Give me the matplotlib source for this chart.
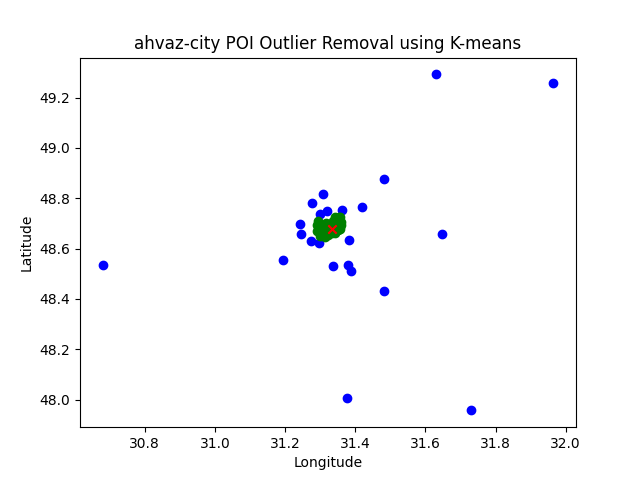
import matplotlib
matplotlib.use("Agg")
import matplotlib.pyplot as plt

# points removed as outliers
outlier_lon = [31.631, 31.965, 31.482, 31.418, 31.308, 31.276, 31.242, 31.245, 31.193,
               31.382, 31.336, 31.379, 31.388, 31.482, 31.648, 30.680, 31.377, 31.729,
               31.273, 31.298, 31.319, 31.361, 31.299]
outlier_lat = [49.292, 49.256, 48.875, 48.764, 48.815, 48.780, 48.696, 48.657, 48.553,
               48.633, 48.530, 48.534, 48.510, 48.430, 48.656, 48.533, 48.008, 47.957,
               48.629, 48.622, 48.748, 48.752, 48.739]

# points kept
kept_lon = [31.293, 31.291, 31.291, 31.299, 31.313, 31.333, 31.351, 31.360, 31.358,
            31.351, 31.337, 31.318, 31.309, 31.328, 31.347, 31.355, 31.342, 31.323,
            31.342, 31.356, 31.360, 31.296]
kept_lat = [48.711, 48.692, 48.669, 48.650, 48.645, 48.660, 48.673, 48.692, 48.724,
            48.716, 48.708, 48.703, 48.679, 48.682, 48.692, 48.727, 48.724, 48.653,
            48.663, 48.679, 48.706, 48.700]

center_lon = [31.334]
center_lat = [48.679]

plt.figure(figsize=(6.4, 4.8), dpi=100)
plt.scatter(outlier_lon, outlier_lat, color="b")
plt.scatter(kept_lon, kept_lat, color="g")
plt.scatter(center_lon, center_lat, color="r", marker="x")
plt.title("ahvaz-city POI Outlier Removal using K-means", fontsize=12.03)
plt.xlabel("Longitude")
plt.ylabel("Latitude")
plt.savefig("out.png")
